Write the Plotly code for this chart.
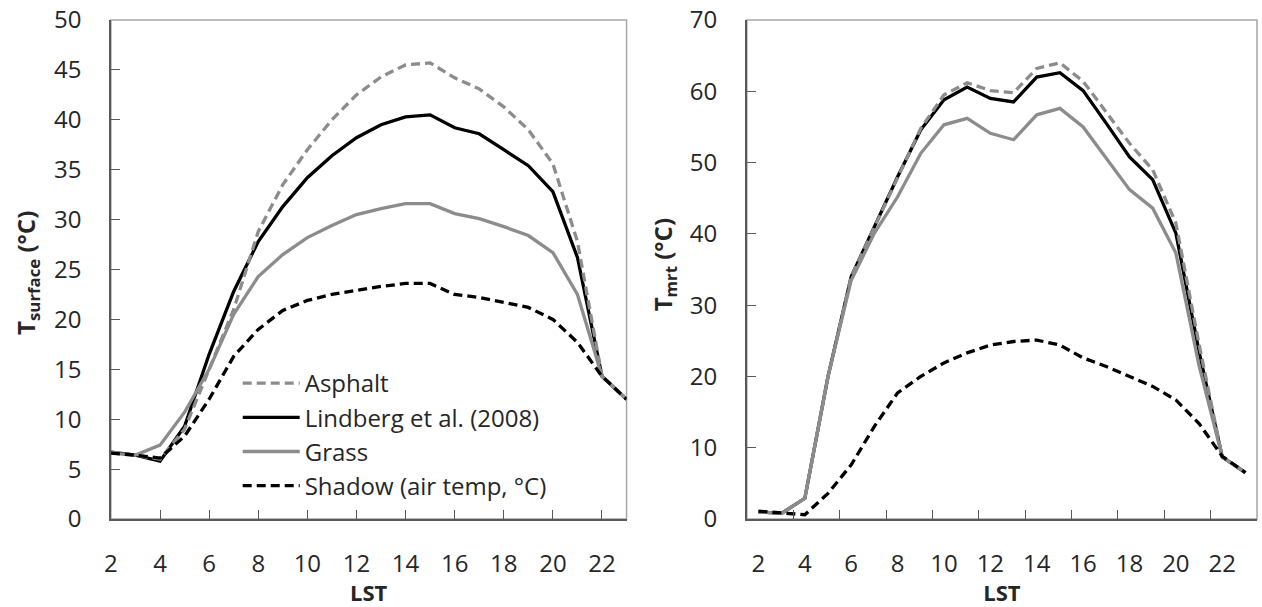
import plotly.graph_objects as go

# ---------------- data ----------------
hours = list(range(2, 24))

# Left panel: surface temperature (°C)
surf_asphalt = [6.7, 6.4, 6.0, 9.0, 15.0, 21.0, 28.8, 33.5, 37.0, 40.0, 42.5, 44.3, 45.5, 45.7,
                44.2, 43.1, 41.3, 39.0, 35.6, 27.8, 14.3, 12.0]
surf_lindberg = [6.7, 6.4, 5.8, 9.3, 16.5, 22.8, 27.8, 31.3, 34.2, 36.4, 38.2, 39.5, 40.3, 40.5,
                 39.2, 38.6, 37.0, 35.4, 32.8, 26.2, 14.3, 12.0]
surf_grass = [6.6, 6.4, 7.4, 10.7, 15.0, 20.5, 24.3, 26.5, 28.2, 29.4, 30.5, 31.1, 31.6, 31.6,
              30.6, 30.1, 29.3, 28.4, 26.7, 22.5, 14.3, 12.0]
surf_shadow = [6.6, 6.4, 6.1, 8.3, 12.0, 16.3, 19.0, 20.9, 21.9, 22.5, 22.9, 23.3, 23.6, 23.6,
               22.5, 22.2, 21.7, 21.2, 20.0, 17.7, 14.3, 12.0]

# Right panel: mean radiant temperature (°C)
mrt_asphalt = [1.0, 0.8, 2.9, 20.0, 34.0, 41.0, 48.0, 54.8, 59.5, 61.2, 60.1, 59.8, 63.2, 64.0,
               61.4, 57.0, 52.7, 49.0, 41.5, 24.5, 8.7, 6.5]
mrt_lindberg = [1.0, 0.8, 2.9, 20.0, 34.0, 41.0, 48.0, 54.6, 58.8, 60.6, 59.0, 58.5, 62.0, 62.6,
                60.1, 55.5, 50.8, 47.6, 40.1, 23.5, 8.7, 6.5]
mrt_grass = [1.0, 0.8, 2.9, 20.0, 33.5, 40.1, 45.2, 51.3, 55.3, 56.2, 54.1, 53.2, 56.7, 57.6,
             55.0, 50.6, 46.2, 43.6, 37.3, 21.5, 8.7, 6.5]
mrt_shadow = [1.1, 0.9, 0.6, 3.6, 7.6, 13.0, 17.7, 20.0, 21.9, 23.3, 24.4, 24.9, 25.1, 24.4,
              22.6, 21.4, 20.0, 18.6, 16.7, 13.4, 8.8, 6.5]

series_names = ["Asphalt", "Lindberg et al. (2008)", "Grass", "Shadow (air temp, °C)"]
left_yticks = list(range(0, 51, 5))
right_yticks = list(range(0, 71, 10))
x_ticklabels = [str(h) for h in range(2, 23, 2)]
left_ytitle = "<b>T<sub>surface</sub> (°C)</b>"
right_ytitle = "<b>T<sub>mrt</sub> (°C)</b>"
xtitle = "<b>LST</b>"

# ---------------- styling ----------------
GRAY = "#8c8c8c"
BLACK = "#000000"
AXIS = "#595959"
BORDER = "#a6a6a6"
TEXT = "#262626"
FONT = "Open Sans"
LW = 3.3
DASH = "9px,5px"

styles = {
    "Asphalt": dict(color=GRAY, width=LW, dash=DASH),
    "Lindberg et al. (2008)": dict(color=BLACK, width=LW),
    "Grass": dict(color=GRAY, width=LW),
    "Shadow (air temp, °C)": dict(color=BLACK, width=LW, dash=DASH),
}
ranks = {n: i + 1 for i, n in enumerate(series_names)}
draw_order = ["Lindberg et al. (2008)", "Grass", "Asphalt", "Shadow (air temp, °C)"]

left_data = dict(zip(series_names, [surf_asphalt, surf_lindberg, surf_grass, surf_shadow]))
right_data = dict(zip(series_names, [mrt_asphalt, mrt_lindberg, mrt_grass, mrt_shadow]))

fig = go.Figure()
for name in draw_order:
    fig.add_trace(go.Scatter(
        x=hours, y=left_data[name], mode="lines", name=name,
        line=styles[name], legendgroup=name, legendrank=ranks[name],
        xaxis="x", yaxis="y", showlegend=True,
    ))
cat_hours = [str(h) for h in hours]
for name in draw_order:
    fig.add_trace(go.Scatter(
        x=cat_hours, y=right_data[name], mode="lines", name=name,
        line=styles[name], legendgroup=name, showlegend=False,
        xaxis="x2", yaxis="y2",
    ))

W, H = 1262, 607
mt, mb = 20, 88
PH = H - mt - mb
left_dom = [104.5 / W, 623 / W]
right_dom = [744 / W, 1257 / W]

tickfont = dict(family=FONT, size=24, color=TEXT)
ytitlefont = dict(family=FONT, size=24, color=TEXT)
xtitlefont = dict(family=FONT, size=22, color=TEXT)

common_axis = dict(
    showgrid=False, zeroline=False, showline=True, linecolor=AXIS, linewidth=1.5,
    ticks="inside", ticklen=9, tickwidth=1.3, tickcolor=AXIS, tickfont=tickfont,
    tickangle=0,
)

fig.update_layout(
    width=W, height=H,
    margin=dict(l=0, r=0, t=mt, b=mb),
    paper_bgcolor="white", plot_bgcolor="white",
    font=dict(family=FONT, color=TEXT),
    xaxis=dict(domain=left_dom, range=[2, 23], tickmode="array",
               tickvals=list(range(2, 23, 2)), ticktext=x_ticklabels,
               ticklabelstandoff=22,
               title=dict(text=xtitle, font=xtitlefont, standoff=6),
               anchor="y", **common_axis),
    yaxis=dict(domain=[0, 1], range=[0, 50], tickmode="array", tickvals=left_yticks,
               ticklabelstandoff=23,
               anchor="x", **common_axis),
    xaxis2=dict(domain=right_dom, type="category", range=[-0.5, 21.5],
                tickmode="linear", tick0=0, dtick=2, tickson="boundaries",
                ticklabelstandoff=22,
                title=dict(text=xtitle, font=xtitlefont, standoff=6),
                anchor="y2", **common_axis),
    yaxis2=dict(domain=[0, 1], range=[0, 70], tickmode="array", tickvals=right_yticks,
                ticklabelstandoff=23,
                anchor="x2", **common_axis),
    legend=dict(
        x=232 / W, y=(H - mb - 361) / PH, xref="paper", yref="paper",
        xanchor="left", yanchor="top",
        font=dict(family=FONT, size=24, color=TEXT),
        bgcolor="rgba(0,0,0,0)", borderwidth=0,
        tracegroupgap=0, itemwidth=57,
    ),
    showlegend=True,
)

# y-axis titles (placed close to the tick labels as in the original)
for text, xpx, ypx in ((left_ytitle, 20, 273), (right_ytitle, 661, 265)):
    fig.add_annotation(text=text, textangle=-90, xref="paper", yref="paper",
                       x=xpx / W, y=(H - mb - ypx) / PH, xanchor="center", yanchor="middle",
                       showarrow=False, font=ytitlefont)

# light border around each plot area (top/right sides)
for xr, yr in (("x domain", "y domain"), ("x2 domain", "y2 domain")):
    fig.add_shape(type="rect", xref=xr, yref=yr, x0=0, x1=1, y0=0, y1=1,
                  line=dict(color=BORDER, width=1.5), layer="below")

fig.write_html("out.html")
